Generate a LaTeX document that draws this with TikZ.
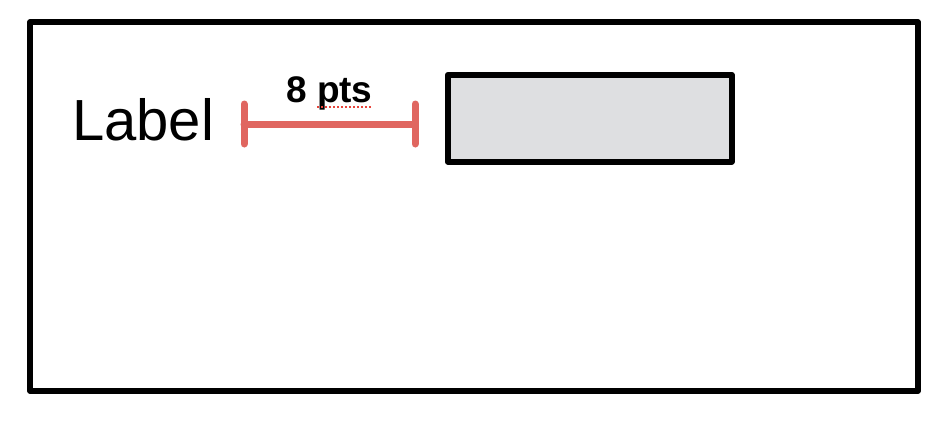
\documentclass[tikz,border=0pt]{standalone}
\usepackage{fontspec}
\setmainfont{Liberation Sans}
\definecolor{dimred}{HTML}{E06660}
\definecolor{boxgray}{HTML}{DEDFE1}
\definecolor{spellred}{HTML}{E8453C}
\begin{document}
\begin{tikzpicture}[x=1pt,y=-1pt,
  frame/.style={draw=black,line width=5.5pt,line join=round,line cap=round},
  dimline/.style={draw=dimred,line width=7pt,line cap=round},
  lbl/.style={inner sep=0pt,anchor=base west}]
\useasboundingbox (0,0) rectangle (952,424);
\draw[frame] (30,22) rectangle (918,391);
\node[frame,fill=boxgray,minimum width=284pt,minimum height=87pt,anchor=north west,inner sep=0pt] (box) at (445,72) {};
\node[lbl,font=\fontsize{58}{60}\selectfont] (label) at (72,140) {Label};
\coordinate (dl) at (244,124);
\coordinate (dr) at (415,124);
\draw[dimline] (dl) -- (dr);
\draw[dimline] ([yshift=20pt]dl) -- ([yshift=-20pt]dl);
\draw[dimline] ([yshift=20pt]dr) -- ([yshift=-20pt]dr);
\node[lbl,font=\fontsize{37}{39}\selectfont\bfseries] (pts) at (286,102) {8 pts};
\draw[spellred,line width=2.5pt,dash pattern=on 2pt off 2pt] ([xshift=31pt,yshift=-5pt]pts.base west) -- ([yshift=-5pt]pts.base east);
\end{tikzpicture}
\end{document}
